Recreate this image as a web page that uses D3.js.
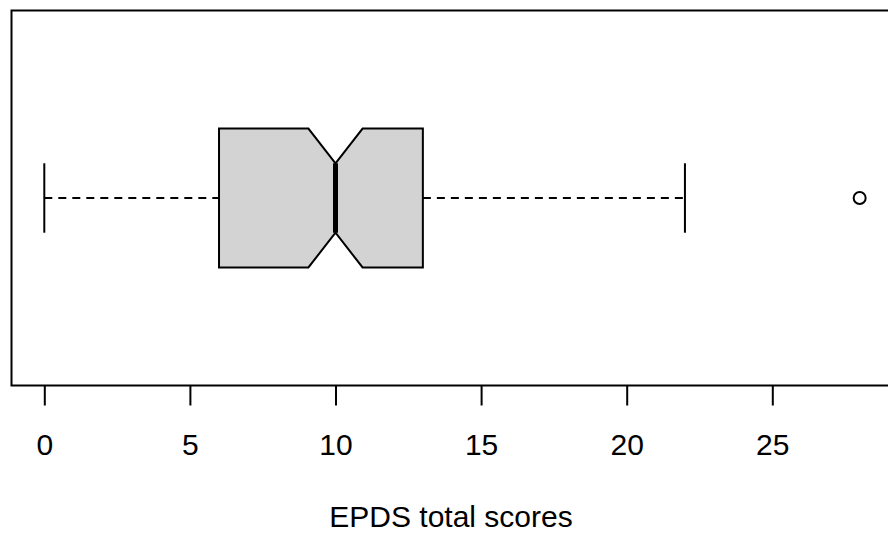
<!DOCTYPE html>
<html>
<head>
<meta charset="utf-8">
<script src="https://cdn.jsdelivr.net/npm/d3@7"></script>
<style>
  html, body { margin: 0; padding: 0; background: #fff; }
  svg { display: block; }
</style>
</head>
<body>
<svg id="chart" width="888" height="533"></svg>
<script>
// ---- data ----
const stats = { min: 0, q1: 6, median: 10, q3: 13, max: 22 };
const notchLow = 9.07;
const notchHigh = 10.93;
const outliers = [28];
const tickValues = [0, 5, 10, 15, 20, 25];
const axisTitle = "EPDS total scores";

// ---- layout ----
const svg = d3.select("#chart");
const frame = { left: 11.5, top: 10.5, right: 900, bottom: 385.5 };

const x = d3.scaleLinear().domain([0, 25]).range([44.3, 772.3]);
const y = d3.scaleLinear().domain([0.46, 1.54]).range([frame.bottom, frame.top]);

const center = 1;
const halfW = 0.2;
const stapleW = 0.1;
const notchW = 0.1;

const font = "'Liberation Sans', Arial, Helvetica, sans-serif";

// frame
svg.append("rect")
  .attr("x", frame.left).attr("y", frame.top)
  .attr("width", frame.right - frame.left)
  .attr("height", frame.bottom - frame.top)
  .attr("fill", "none").attr("stroke", "#000").attr("stroke-width", 2);

// whiskers (dashed)
svg.append("line")
  .attr("x1", x(stats.min)).attr("x2", x(stats.q1))
  .attr("y1", y(center)).attr("y2", y(center))
  .attr("stroke", "#000").attr("stroke-width", 1.8).attr("stroke-dasharray", "8,6");
svg.append("line")
  .attr("x1", x(stats.q3)).attr("x2", x(stats.max))
  .attr("y1", y(center)).attr("y2", y(center))
  .attr("stroke", "#000").attr("stroke-width", 1.8).attr("stroke-dasharray", "8,6");

// staples
[stats.min, stats.max].forEach(v => {
  svg.append("line")
    .attr("x1", x(v)).attr("x2", x(v))
    .attr("y1", y(center - stapleW)).attr("y2", y(center + stapleW))
    .attr("stroke", "#000").attr("stroke-width", 2);
});

// notched box
const pts = [
  [x(stats.q1), y(center + halfW)],
  [x(notchLow), y(center + halfW)],
  [x(stats.median), y(center + notchW)],
  [x(notchHigh), y(center + halfW)],
  [x(stats.q3), y(center + halfW)],
  [x(stats.q3), y(center - halfW)],
  [x(notchHigh), y(center - halfW)],
  [x(stats.median), y(center - notchW)],
  [x(notchLow), y(center - halfW)],
  [x(stats.q1), y(center - halfW)]
];
svg.append("path")
  .attr("d", d3.line()(pts) + "Z")
  .attr("fill", "#d3d3d3").attr("stroke", "#000").attr("stroke-width", 2)
  .attr("stroke-linejoin", "miter");

// median
svg.append("line")
  .attr("x1", x(stats.median)).attr("x2", x(stats.median))
  .attr("y1", y(center - notchW)).attr("y2", y(center + notchW))
  .attr("stroke", "#000").attr("stroke-width", 5);

// outliers
svg.selectAll("circle.out").data(outliers).enter().append("circle")
  .attr("class", "out")
  .attr("cx", d => x(d)).attr("cy", y(center))
  .attr("r", 6)
  .attr("fill", "none").attr("stroke", "#000").attr("stroke-width", 2);

// x axis
const axis = d3.axisBottom(x).tickValues(tickValues).tickSize(20).tickPadding(28)
  .tickFormat(d3.format("d"));
const ag = svg.append("g").attr("transform", `translate(0,${frame.bottom})`).call(axis);
ag.select(".domain").remove();
ag.selectAll(".tick line").attr("stroke", "#000").attr("stroke-width", 2);
ag.selectAll(".tick text")
  .attr("fill", "#000")
  .style("font-family", font).style("font-size", "30px");

// axis title
svg.append("text")
  .attr("x", (325 + 577) / 2).attr("y", 527)
  .attr("text-anchor", "middle")
  .style("font-family", font).style("font-size", "30px").attr("fill", "#000")
  .text(axisTitle);
</script>
</body>
</html>
